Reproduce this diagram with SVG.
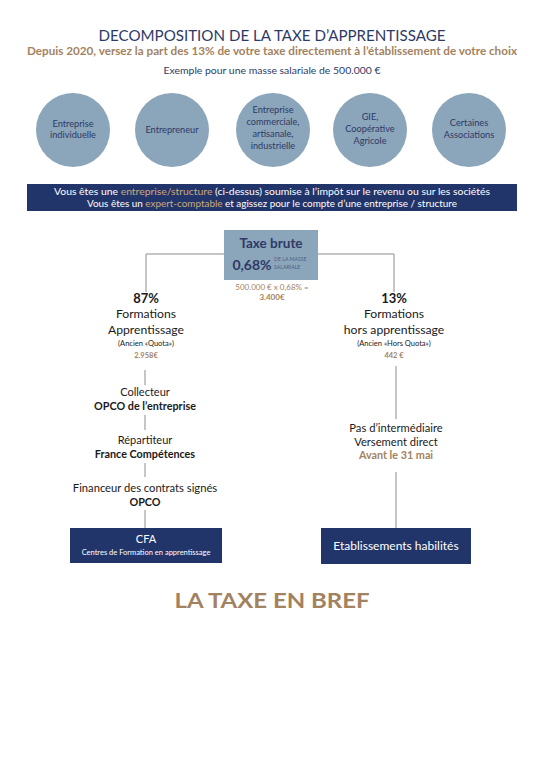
<svg xmlns="http://www.w3.org/2000/svg" width="543" height="768" viewBox="0 0 543 768">
<style>
text{font-family:Lato,"Open Sans","Liberation Sans",sans-serif;text-anchor:middle}
.navy{fill:#2e3a66}
.blk{fill:#1a1a1a}
.brn{fill:#a3825f}
.b{font-weight:bold}
.circ{fill:#8ba5ba}
.ct{font-size:9.2px;fill:#2e3a66}
.dark{fill:#22356b}
.wt{fill:#ffffff}
.ln{stroke:#8c8c8c;stroke-width:1;fill:none}
</style>
<rect width="543" height="768" fill="#ffffff"/>
<g id="header">
<text x="272" y="41" class="navy" font-size="15.5" textLength="347" lengthAdjust="spacingAndGlyphs">DECOMPOSITION DE LA TAXE D’APPRENTISSAGE</text>
<text x="272" y="55" class="brn b" font-size="11" textLength="490" lengthAdjust="spacingAndGlyphs">Depuis 2020, versez la part des 13% de votre taxe directement à l’établissement de votre choix</text>
<text x="272" y="74" class="navy" font-size="9.5" textLength="217" lengthAdjust="spacingAndGlyphs">Exemple pour une masse salariale de 500.000 €</text>
</g>
<g id="c1"><circle cx="73" cy="130" r="37" class="circ"/><text x="73" y="127" class="ct">Entreprise</text><text x="73" y="138" class="ct">individuelle</text></g>
<g id="c2"><circle cx="172" cy="130" r="37" class="circ"/><text x="172" y="133" class="ct">Entrepreneur</text></g>
<g id="c3"><circle cx="273" cy="130" r="37" class="circ"/><text x="273" y="113" class="ct">Entreprise</text><text x="273" y="125" class="ct">commerciale,</text><text x="273" y="137" class="ct">artisanale,</text><text x="273" y="149" class="ct">industrielle</text></g>
<g id="c4"><circle cx="370" cy="130" r="37" class="circ"/><text x="370" y="120" class="ct">GIE,</text><text x="370" y="132" class="ct">Coopérative</text><text x="370" y="144" class="ct">Agricole</text></g>
<g id="c5"><circle cx="469" cy="130" r="37" class="circ"/><text x="469" y="126" class="ct">Certaines</text><text x="469" y="138" class="ct">Associations</text></g>
<g id="banner">
<rect x="27" y="184" width="490" height="27" class="dark"/>
<text x="272" y="195" class="wt" font-size="9" textLength="436" lengthAdjust="spacingAndGlyphs">Vous êtes une <tspan fill="#c9a97c">entreprise/structure</tspan> (ci-dessus) soumise à l’impôt sur le revenu ou sur les sociétés</text>
<text x="272" y="207" class="wt" font-size="9" textLength="370" lengthAdjust="spacingAndGlyphs">Vous êtes un <tspan fill="#c9a97c">expert-comptable</tspan> et agissez pour le compte d’une entreprise / structure</text>
</g>
<g id="connectors">
<polyline class="ln" points="224,254 146,254 146,292"/>
<polyline class="ln" points="318,254 394,254 394,292"/>
<line class="ln" x1="145" y1="370" x2="145" y2="385"/>
<line class="ln" x1="145" y1="415" x2="145" y2="430"/>
<line class="ln" x1="145" y1="463" x2="145" y2="477"/>
<line class="ln" x1="145" y1="510" x2="145" y2="528"/>
<line class="ln" x1="396" y1="366" x2="396" y2="419"/>
<line class="ln" x1="396" y1="472" x2="396" y2="528"/>
</g>
<g id="taxe">
<rect x="224" y="230" width="94" height="50" class="circ"/>
<text x="271" y="248" class="navy b" font-size="13.5">Taxe brute</text>
<text x="252" y="270" class="navy b" font-size="14">0,68%</text>
<text x="274" y="261" class="navy" font-size="5.2" style="text-anchor:start" fill-opacity="0.7">DE LA MASSE</text>
<text x="274" y="269" class="navy" font-size="5.2" style="text-anchor:start" fill-opacity="0.7">SALARIALE</text>
<text x="272" y="290" class="brn" font-size="8">500.000 € x 0,68% =</text>
<text x="272" y="300" class="brn b" font-size="8">3.400€</text>
</g>
<g id="left">
<text x="146" y="303" class="blk b" font-size="13">87%</text>
<text x="146" y="318" class="blk" font-size="12.2">Formations</text>
<text x="146" y="334" class="blk" font-size="12.2">Apprentissage</text>
<text x="146" y="346" class="blk" font-size="7.5">(Ancien «Quota»)</text>
<text x="146" y="358" class="brn b" font-size="7.5">2.958€</text>
</g>
<g id="right">
<text x="394" y="303" class="blk b" font-size="13">13%</text>
<text x="394" y="318" class="blk" font-size="12.2">Formations</text>
<text x="394" y="334" class="blk" font-size="12.2">hors apprentissage</text>
<text x="394" y="346" class="blk" font-size="7.5">(Ancien «Hors Quota»)</text>
<text x="394" y="358" class="brn b" font-size="7.5">442 €</text>
</g>
<g id="collecteur"><text x="145" y="396" class="blk" font-size="11">Collecteur</text><text x="145" y="410" class="blk b" font-size="10.8">OPCO de l’entreprise</text></g>
<g id="repartiteur"><text x="145" y="444" class="blk" font-size="11">Répartiteur</text><text x="145" y="458" class="blk b" font-size="10.8">France Compétences</text></g>
<g id="financeur"><text x="145" y="492" class="blk" font-size="11.2">Financeur des contrats signés</text><text x="145" y="506" class="blk b" font-size="10.8">OPCO</text></g>
<g id="cfa">
<rect x="70" y="528" width="152" height="35" class="dark"/>
<text x="146" y="543" class="wt" font-size="11">CFA</text>
<text x="146" y="555" class="wt" font-size="7.5">Centres de Formation en apprentissage</text>
</g>
<g id="direct"><text x="396" y="432" class="blk" font-size="11.2">Pas d’intermédiaire</text><text x="396" y="446" class="blk" font-size="11.2">Versement direct</text><text x="396" y="459" class="brn b" font-size="10.8">Avant le 31 mai</text></g>
<g id="etab">
<rect x="321" y="528" width="150" height="36" class="dark"/>
<text x="396" y="550" class="wt" font-size="12">Etablissements habilités</text>
</g>
<g id="footer"><text x="272" y="608" class="brn b" font-size="21" textLength="195" lengthAdjust="spacingAndGlyphs">LA TAXE EN BREF</text></g>
</svg>
